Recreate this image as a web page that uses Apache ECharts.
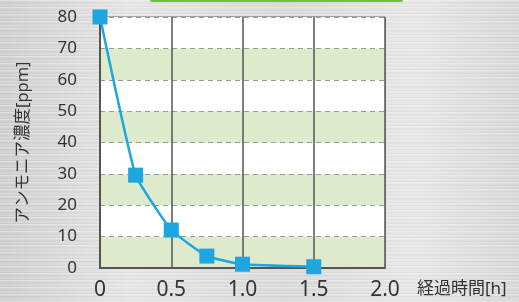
<!DOCTYPE html>
<html>
<head>
<meta charset="utf-8">
<script src="https://cdn.jsdelivr.net/npm/echarts@6/dist/echarts.min.js"></script>
<style>
  html, body { margin: 0; padding: 0; }
  body {
    width: 519px; height: 302px; overflow: hidden;
    background:
      repeating-linear-gradient(180deg, rgba(255,255,255,0.35) 0px, rgba(255,255,255,0.35) 1px, rgba(0,0,0,0.03) 2px, rgba(0,0,0,0.0) 4px, rgba(255,255,255,0.2) 5px, rgba(0,0,0,0.05) 7px),
      linear-gradient(90deg, #cfcfcf 0%, #e6e6e6 25%, #dadada 55%, #e8e8e8 80%, #d8d8d8 100%);
  }
  #chart { width: 519px; height: 302px; }
</style>
</head>
<body>
<div id="chart"></div>
<script>
// 経過時間[h] と アンモニア濃度[ppm]
const hours = [0, 0.25, 0.5, 0.75, 1.0, 1.5]
const ammonia = [80, 29.6, 12.1, 3.8, 1.2, 0.4]
const xTickLabels = { 0: '0', 0.5: '0.5', 1: '1.0', 1.5: '1.5', 2: '2.0' }

const chart = echarts.init(document.getElementById('chart'))

const labelFont = "'Noto Sans', 'Noto Sans CJK JP', sans-serif"

chart.setOption({
  animation: false,
  backgroundColor: 'transparent',
  grid: {
    left: 100, right: 134, top: 17, bottom: 34,
    show: true,
    borderColor: '#666',
    borderWidth: 1
  },
  graphic: [
    {
      type: 'rect',
      shape: { x: 150, y: -3, width: 253, height: 5, r: 2 },
      style: { fill: '#74c043' }
    }
  ],
  xAxis: {
    type: 'value',
    min: 0, max: 2, interval: 0.5,
    name: '経過時間[h]',
    nameLocation: 'end',
    nameGap: 32,
    nameTextStyle: {
      fontFamily: labelFont, fontSize: 17, color: '#333',
      verticalAlign: 'top', padding: [13, 0, 0, 0]
    },
    axisLine: { show: true, lineStyle: { color: '#555', width: 2 } },
    axisTick: { show: false },
    axisLabel: {
      margin: 12,
      fontFamily: labelFont, fontSize: 21, color: '#333',
      formatter: v => xTickLabels[v] ?? String(v)
    },
    splitLine: { show: true, lineStyle: { color: '#555', width: 1.5 } }
  },
  yAxis: {
    type: 'value',
    min: 0, max: 80, interval: 10,
    name: 'アンモニア濃度[ppm]',
    nameLocation: 'middle',
    nameRotate: 90,
    nameGap: 68,
    nameTextStyle: { fontFamily: labelFont, fontSize: 16.5, color: '#333' },
    axisLine: { show: true, lineStyle: { color: '#555', width: 2 } },
    axisTick: { show: false },
    axisLabel: { margin: 23, fontFamily: labelFont, fontSize: 17, color: '#333' },
    splitLine: { show: true, lineStyle: { color: '#999', type: [5, 4], width: 1 } },
    splitArea: { show: true, areaStyle: { color: ['#deeacc', '#ffffff'] } }
  },
  series: [
    {
      type: 'line',
      data: hours.map((h, i) => [h, ammonia[i]]),
      smooth: 0.12,
      symbol: 'rect',
      symbolSize: 15,
      lineStyle: { color: '#1ea6e0', width: 2.5 },
      itemStyle: { color: '#1ea6e0' },
      z: 5
    }
  ]
})
</script>
</body>
</html>
